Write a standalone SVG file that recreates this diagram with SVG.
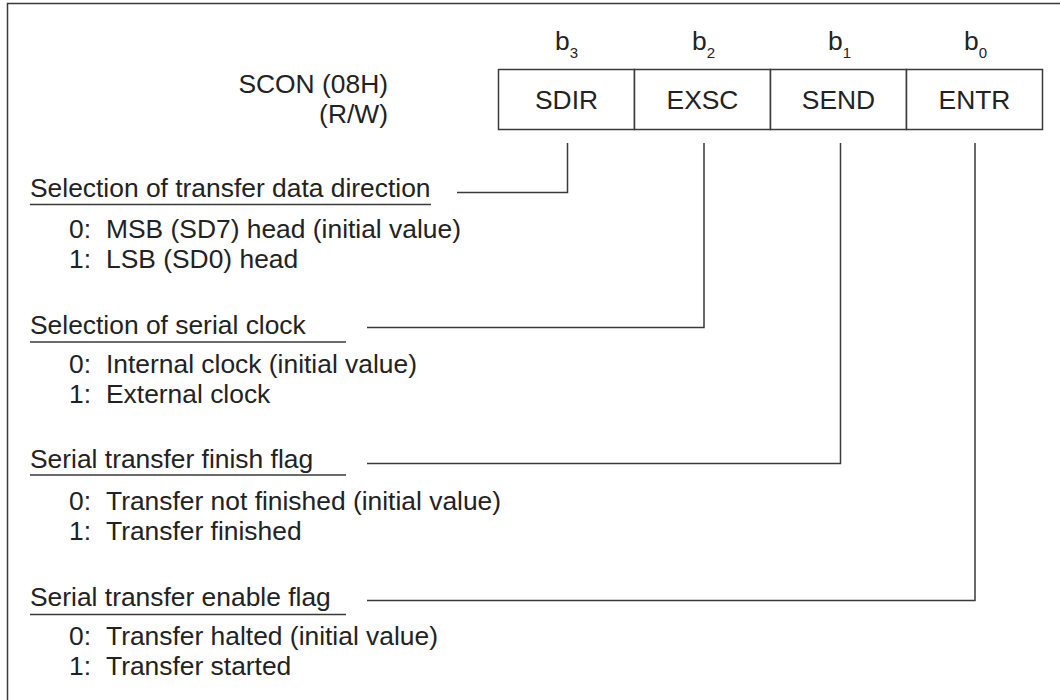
<svg xmlns="http://www.w3.org/2000/svg" width="1060" height="700" viewBox="0 0 1060 700">
<style>
text{font-family:"Liberation Sans",Arial,sans-serif;font-size:26.4px;fill:#222}
.sub{font-size:15px}
.ln{stroke:#3a3a3a;stroke-width:1.5;fill:none}
.cell{fill:#fff;stroke:#3a3a3a;stroke-width:1.5}
.mid{text-anchor:middle}
.end{text-anchor:end}
</style>
<rect width="1060" height="700" fill="#fff"/>
<g id="frame"><path class="ln" d="M1060,3.5 H7.5 V700"/></g>
<g id="reg-title">
<text class="end" x="388" y="93">SCON (08H)</text>
<text class="end" x="388" y="123">(R/W)</text>
</g>
<g id="bit-labels">
<text x="555" y="50">b<tspan class="sub" dy="8">3</tspan></text>
<text x="692" y="50">b<tspan class="sub" dy="8">2</tspan></text>
<text x="828" y="50">b<tspan class="sub" dy="8">1</tspan></text>
<text x="964" y="50">b<tspan class="sub" dy="8">0</tspan></text>
</g>
<g id="cell-SDIR"><rect class="cell" x="498.5" y="69.5" width="136" height="60"/><text class="mid" x="566.5" y="109">SDIR</text></g>
<g id="cell-EXSC"><rect class="cell" x="634.5" y="69.5" width="136" height="60"/><text class="mid" x="702.5" y="109">EXSC</text></g>
<g id="cell-SEND"><rect class="cell" x="770.5" y="69.5" width="136" height="60"/><text class="mid" x="838.5" y="109">SEND</text></g>
<g id="cell-ENTR"><rect class="cell" x="906.5" y="69.5" width="136" height="60"/><text class="mid" x="974.5" y="109">ENTR</text></g>
<g id="connectors">
<path class="ln" d="M567.5,143 V192.5 H457"/>
<path class="ln" d="M704,143 V327.5 H367"/>
<path class="ln" d="M840.5,143 V463.5 H367"/>
<path class="ln" d="M975,143 V600.5 H367"/>
</g>
<g id="field-SDIR">
<text x="30" y="197">Selection of transfer data direction</text>
<path class="ln" d="M30,204.5 H431"/>
<text x="69" y="238">0:<tspan x="106">MSB (SD7) head (initial value)</tspan></text>
<text x="69" y="268">1:<tspan x="106">LSB (SD0) head</tspan></text>
</g>
<g id="field-EXSC">
<text x="30" y="334">Selection of serial clock</text>
<path class="ln" d="M30,342 H346"/>
<text x="69" y="373">0:<tspan x="106">Internal clock (initial value)</tspan></text>
<text x="69" y="403">1:<tspan x="106">External clock</tspan></text>
</g>
<g id="field-SEND">
<text x="30" y="468">Serial transfer finish flag</text>
<path class="ln" d="M30,475 H346"/>
<text x="69" y="510">0:<tspan x="106">Transfer not finished (initial value)</tspan></text>
<text x="69" y="540">1:<tspan x="106">Transfer finished</tspan></text>
</g>
<g id="field-ENTR">
<text x="30" y="606">Serial transfer enable flag</text>
<path class="ln" d="M30,614.5 H346"/>
<text x="69" y="645">0:<tspan x="106">Transfer halted (initial value)</tspan></text>
<text x="69" y="675">1:<tspan x="106">Transfer started</tspan></text>
</g>
</svg>
